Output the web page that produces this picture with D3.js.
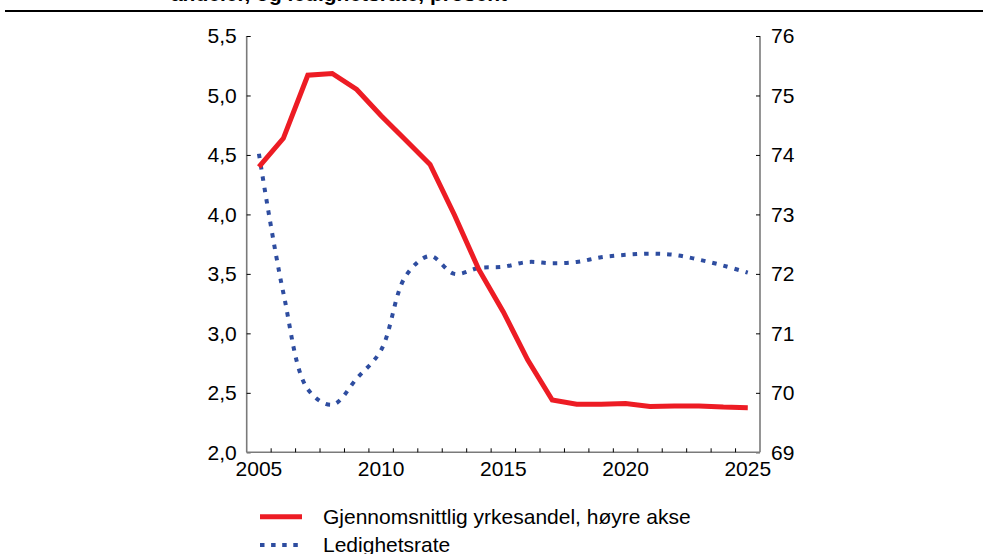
<!DOCTYPE html>
<html>
<head>
<meta charset="utf-8">
<script src="https://cdn.jsdelivr.net/npm/d3@7"></script>
<style>
  html, body { margin: 0; padding: 0; background: #fff; }
  svg { display: block; font-family: "Liberation Sans", Arial, sans-serif; }
</style>
</head>
<body>
<svg id="chart" width="983" height="554"></svg>
<script>
// ---- Data ----
const years = [2005,2006,2007,2008,2009,2010,2011,2012,2013,2014,2015,2016,2017,2018,2019,2020,2021,2022,2023,2024,2025];
// Gjennomsnittlig yrkesandel (right axis, %)
const yrkesandel = [73.80,74.28,75.34,75.37,75.10,74.66,74.25,73.84,72.99,72.07,71.36,70.55,69.88,69.81,69.81,69.82,69.77,69.78,69.78,69.76,69.75];
// Ledighetsrate (left axis, %)
const ledighet = [4.51,3.34,2.53,2.40,2.62,2.86,3.48,3.65,3.50,3.55,3.56,3.60,3.59,3.60,3.64,3.66,3.67,3.66,3.62,3.57,3.51];
const leftTicks = [2.0,2.5,3.0,3.5,4.0,4.5,5.0,5.5];
const rightTicks = [69,70,71,72,73,74,75,76];
const xLabelYears = [2005,2010,2015,2020,2025];
const legendLabels = ["Gjennomsnittlig yrkesandel, høyre akse", "Ledighetsrate"];
const titleText = "andeler, og ledighetsrate, prosent";

// ---- Layout ----
const L = 246.7, R = 760, T = 36, B = 452.3;
const RED = "#ed1c24", BLUE = "#2e4da0", AXIS = "#7a7a7a";
const FONT = 21;

const svg = d3.select("#chart");
const fmt = d => d.toFixed(1).replace(".", ",");

const x = d3.scaleBand().domain(years).range([L, R]).padding(0);
const cx = d => x(d) + x.bandwidth() / 2;
const yL = d3.scaleLinear().domain([2, 5.5]).range([B, T]);
const yR = d3.scaleLinear().domain([69, 76]).range([B, T]);

// Title (cut off at top) and rule
svg.append("text").attr("x", 507).attr("y", 1).attr("text-anchor", "end")
  .attr("font-weight", "bold").attr("font-size", FONT).attr("fill", "#000").text(titleText);
svg.append("line").attr("x1", 5).attr("x2", 983).attr("y1", 11).attr("y2", 11)
  .attr("stroke", "#000").attr("stroke-width", 2.2);

// Left axis
const axL = d3.axisLeft(yL).tickValues(leftTicks).tickSize(-4).tickPadding(10).tickFormat(fmt);
const gL = svg.append("g").attr("transform", `translate(${L},0)`).call(axL);
// Right axis
const axR = d3.axisRight(yR).tickValues(rightTicks).tickSize(-4).tickPadding(11).tickFormat(d3.format("d"));
const gR = svg.append("g").attr("transform", `translate(${R},0)`).call(axR);
// Bottom axis: ticks at band boundaries, labels every 5 years at band centers
const boundaries = years.slice(1).map(d => x(d));
const gB = svg.append("g").attr("transform", `translate(0,${B})`);
gB.append("line").attr("x1", L).attr("x2", R).attr("stroke", AXIS).attr("stroke-width", 1.6);
gB.selectAll("line.tk").data(boundaries).join("line").attr("class", "tk")
  .attr("x1", d => d).attr("x2", d => d).attr("y1", 0).attr("y2", -4)
  .attr("stroke", "#000").attr("stroke-width", 1);
gB.selectAll("text").data(xLabelYears).join("text")
  .attr("x", d => cx(d)).attr("y", 24).attr("text-anchor", "middle")
  .attr("font-size", FONT).attr("fill", "#000").text(d => d);

[gL, gR].forEach(g => {
  g.select(".domain").attr("stroke", AXIS).attr("stroke-width", 1.6)
    .attr("d", `M0,${T}V${B}`);
  g.selectAll(".tick line").attr("stroke", "#000").attr("stroke-width", 1);
  g.selectAll(".tick text").attr("font-size", FONT).attr("fill", "#000")
    .attr("font-family", "Liberation Sans, Arial, sans-serif");
});

// Lines
const lineRed = d3.line().x((d, i) => cx(years[i])).y(d => yR(d));
const lineBlue = d3.line().x((d, i) => cx(years[i])).y(d => yL(d)).curve(d3.curveCatmullRom.alpha(0.5));

svg.append("path").datum(ledighet).attr("d", lineBlue)
  .attr("fill", "none").attr("stroke", BLUE).attr("stroke-width", 4)
  .attr("stroke-dasharray", "4.5,7");
svg.append("path").datum(yrkesandel).attr("d", lineRed)
  .attr("fill", "none").attr("stroke", RED).attr("stroke-width", 5)
  .attr("stroke-linejoin", "miter");

// Legend
const lg = svg.append("g");
lg.append("line").attr("x1", 260).attr("x2", 302).attr("y1", 516.7).attr("y2", 516.7)
  .attr("stroke", RED).attr("stroke-width", 5);
lg.append("line").attr("x1", 260).attr("x2", 302).attr("y1", 545).attr("y2", 545)
  .attr("stroke", BLUE).attr("stroke-width", 4).attr("stroke-dasharray", "4.5,6.6");
lg.append("text").attr("x", 323).attr("y", 524.3).attr("font-size", FONT).attr("fill", "#000").text(legendLabels[0]);
lg.append("text").attr("x", 323).attr("y", 552.3).attr("font-size", FONT).attr("fill", "#000").text(legendLabels[1]);
</script>
</body>
</html>
